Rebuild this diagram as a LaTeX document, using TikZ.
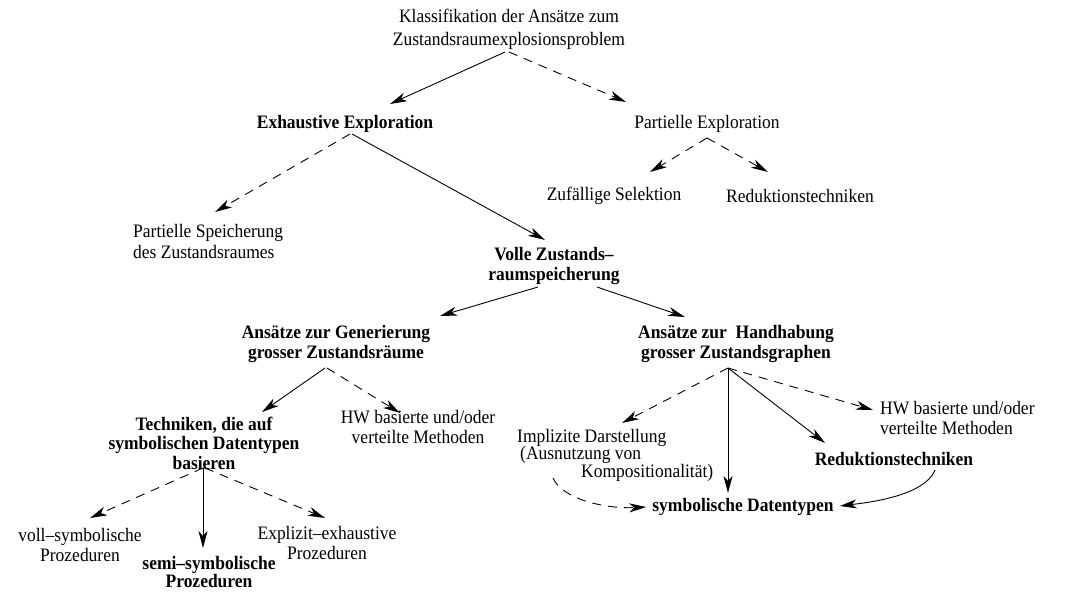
\documentclass[tikz,border=0pt]{standalone}
\usepackage{fontspec}
\setmainfont{Liberation Serif}[FakeStretch=0.92]
\usetikzlibrary{arrows.meta,calc}

\begin{document}
\begin{tikzpicture}[x=1pt,y=-1pt,
    lbl/.style={inner sep=0pt,align=center,font=\fontsize{19}{21}\selectfont},
    blbl/.style={lbl,font=\fontsize{19}{19.5}\selectfont\bfseries},
    conn/.style={line width=0.9pt,-{Stealth[length=17pt,width=9pt,inset=5pt]}},
    solidarrow/.style={conn},
    dasharrow/.style={conn,dash pattern=on 9pt off 7pt}]
\useasboundingbox (0,0) rectangle (1074,592);

% ---- nodes ----
\node[lbl,font=\fontsize{19}{23}\selectfont] (top) at (509,29) {Klassifikation der Ansätze zum\\Zustandsraumexplosionsproblem};
\node[blbl] (exh)   at (345,124) {Exhaustive Exploration};
\node[lbl]  (pexp)  at (707,124) {Partielle Exploration};
\node[lbl,align=left,anchor=west] (psp) at (133,241) {Partielle Speicherung\\des Zustandsraumes};
\node[lbl]  (zuf)   at (614,196) {Zufällige Selektion};
\node[lbl]  (red)   at (800,196) {Reduktionstechniken};
\node[blbl] (volle) at (554,266) {Volle Zustands–\\raumspeicherung};
\node[blbl] (gen)   at (336,344) {Ansätze zur Generierung\\grosser Zustandsräume};
\node[blbl] (hand)  at (736,344) {Ansätze zur\ \ Handhabung\\grosser Zustandsgraphen};
\node[blbl] (tech)  at (204,443) {Techniken, die auf\\symbolischen Datentypen\\basieren};
\node[lbl,font=\fontsize{19}{20}\selectfont] (hwa) at (418,427) {HW basierte und/oder\\verteilte Methoden};
\node[lbl,font=\fontsize{19}{19.5}\selectfont] (voll) at (80,545) {voll–symbolische\\Prozeduren};
\node[blbl,font=\fontsize{19}{18}\selectfont\bfseries] (semi) at (209,572) {semi–symbolische\\Prozeduren};
\node[lbl,font=\fontsize{19}{19.5}\selectfont] (expl) at (327,543) {Explizit–exhaustive\\Prozeduren};
\node[lbl,align=left,anchor=west,font=\fontsize{19}{17.5}\selectfont] (impl) at (517,455)
   {Implizite Darstellung\\\hspace*{3pt}(Ausnutzung von\\\hspace*{64pt}Kompositionalität)};
\node[lbl,align=left,anchor=west,font=\fontsize{19}{20}\selectfont] (hwb) at (880,418) {HW basierte und/oder\\verteilte Methoden};
\node[blbl] (red2)  at (894,459) {Reduktionstechniken};
\node[blbl] (sym)   at (743,507) {symbolische Datentypen};

% ---- connectors ----
\draw[solidarrow] ($(top)+(-4,23)$) -- ($(exh)+(45,-20)$);
\draw[dasharrow]  ($(top)+(0,23)$)  -- ($(pexp)+(-81,-22)$);

\draw[dasharrow]  ($(exh)+(5,10)$) -- ($(psp.west)+(82,-29)$);
\draw[solidarrow] ($(exh)+(7,10)$) -- ($(volle)+(-9,-26)$);

\draw[dasharrow]  ($(pexp)+(0,14)$) -- ($(zuf)+(36,-24)$);
\draw[dasharrow]  ($(pexp)+(0,14)$) -- ($(red)+(-32,-24)$);

\draw[solidarrow] ($(volle)+(-16,21)$) -- ($(gen)+(104,-28)$);
\draw[solidarrow] ($(volle)+(43,21)$)  -- ($(hand)+(-51,-27)$);

\draw[solidarrow] ($(gen)+(-11,24)$) -- ($(tech)+(58,-31)$);
\draw[dasharrow]  ($(gen)+(-9,24)$)  -- ($(hwa)+(-18,-14)$);

\draw[dasharrow]  ($(tech)+(-1,25)$) -- ($(voll)+(10,-27)$);
\draw[solidarrow] ($(tech)+(-1,25)$) -- ($(semi)+(-6,-24)$);
\draw[dasharrow]  ($(tech)+(1,25)$)  -- ($(expl)+(-2,-25)$);

\coordinate (hs) at ($(hand)+(-8,24)$);
\draw[dasharrow]  (hs) -- ($(impl.west)+(105,-32)$);
\draw[solidarrow] (hs) -- ($(sym)+(-15,-14)$);
\draw[solidarrow] (hs) -- ($(red2)+(-69,-16)$);
\draw[dasharrow]  (hs) -- ($(hwb.west)+(-7,-8)$);

\draw[dasharrow]  ($(impl.west)+(36,23)$) .. controls ($(impl.west)+(46,45)$) and ($(sym.west)+(-45,2)$) .. ($(sym.west)+(-6,0)$);
\draw[solidarrow] ($(red2)+(41,11)$) .. controls ($(red2)+(30,38)$) and ($(sym.east)+(30,-4)$) .. ($(sym.east)+(6,-1)$);
\end{tikzpicture}
\end{document}
